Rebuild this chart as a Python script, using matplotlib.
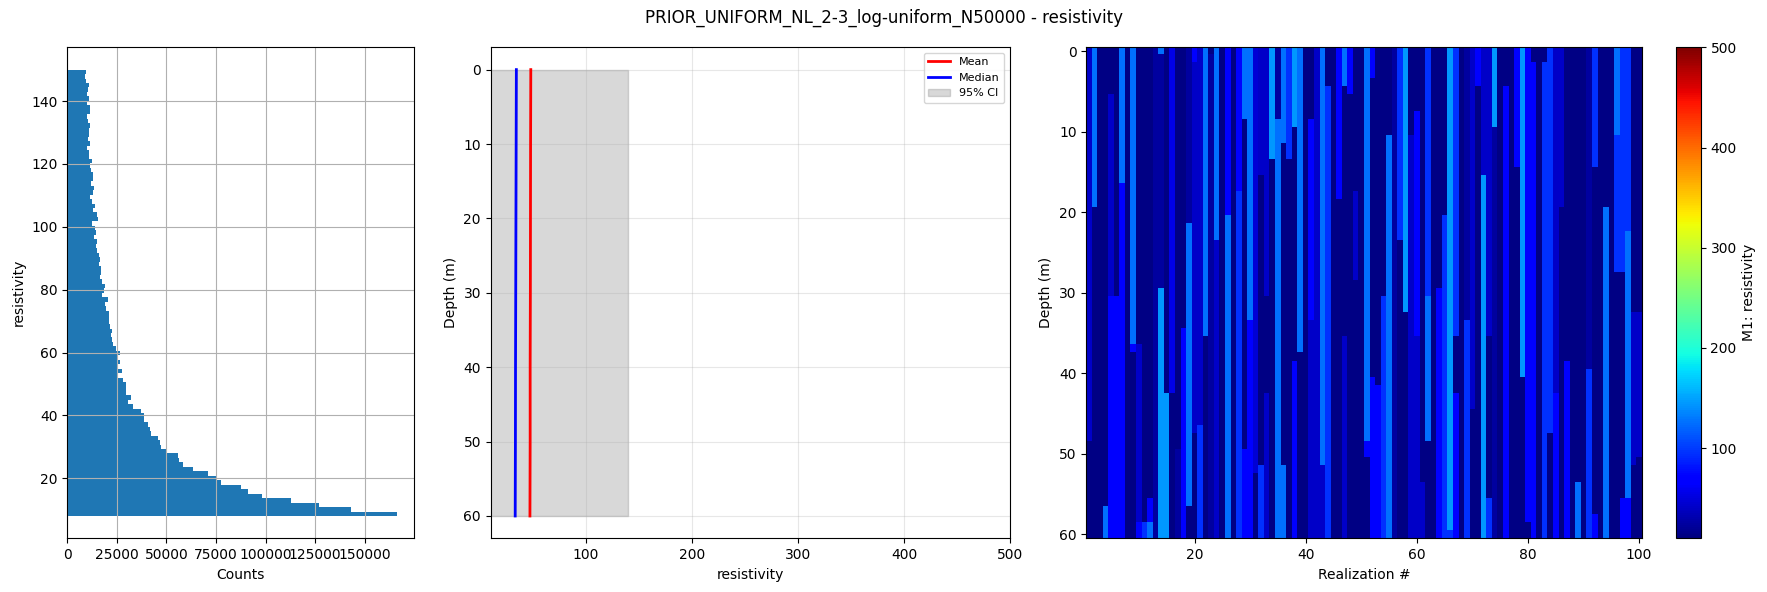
import numpy as np
import matplotlib
matplotlib.use("Agg")
import matplotlib.pyplot as plt

# ---- data ----
title = "PRIOR_UNIFORM_NL_2-3_log-uniform_N50000 - resistivity"

# histogram of resistivity, 100 bins between 8 and 150 (counts from bottom bin upwards)
hist_range = (8.0, 150.0)
hist_counts = [
    166500, 143300, 127100, 113000, 98200, 91300, 87700, 77600, 75600, 71100,
    63500, 58400, 56100, 55700, 50000, 47300, 46500, 45800, 42300, 41800,
    40800, 38700, 38600, 37200, 33000, 30600, 32000, 29500, 29500, 29500,
    28100, 25600, 27600, 25300, 26600, 25300, 26600, 24600, 23100, 22600,
    22100, 22600, 21600, 21100, 21100, 21100, 19500, 19000, 20500, 17700,
    18500, 19000, 17500, 16500, 17000, 17000, 16000, 16500, 16000, 15000,
    14500, 15000, 13500, 14500, 14000, 12500, 15500, 15000, 13000, 14000,
    12500, 11500, 13000, 13500, 12000, 13000, 13000, 12000, 11500, 12500,
    10900, 10900, 9900, 11500, 10400, 10900, 10900, 11500, 10400, 9900,
    11500, 11500, 9900, 10900, 9900, 10400, 10900, 9400, 8900, 9300,
]

# profile statistics vs depth
stat_depth = [0, 10, 20, 30, 40, 50, 60]
mean_res = [48.2, 48.0, 47.9, 47.8, 47.6, 47.6, 47.4]
median_res = [34.6, 34.4, 34.2, 34.0, 33.8, 33.7, 33.5]
ci_low = [8.6, 8.6, 8.6, 8.6, 8.6, 8.6, 8.6]
ci_high = [140.2, 140.2, 140.2, 140.2, 140.2, 140.2, 140.2]

# realizations: for each of 100 columns, layers as (top depth, resistivity)
depths = np.arange(0, 61)
layers = [
    [(0, 42), (48.4, 12)], [(0, 126), (19.4, 12)], [(0, 12)], [(0, 12), (56.5, 126)],
    [(0, 12), (5.4, 42), (30.4, 67)], [(0, 12), (30.4, 67)], [(0, 126), (16.5, 67)], [(0, 12)],
    [(0, 126), (36.5, 67), (37.5, 12)], [(0, 12), (36.5, 42), (58.5, 67)],
    [(0, 12), (58.5, 96)], [(0, 12), (55.5, 67), (58.5, 126)], [(0, 24)],
    [(0, 126), (0.5, 24), (29.5, 145)], [(0, 12), (42.5, 145)], [(0, 55), (42.5, 12)],
    [(0, 12), (50, 24)], [(0, 12), (34.5, 67)], [(0, 24), (21.5, 126), (56.5, 12)],
    [(0, 67), (1.5, 42), (47.4, 12)], [(0, 42), (46.3, 96)], [(0, 126), (35.4, 12)],
    [(0, 12), (1, 24)], [(0, 126), (23.4, 42)], [(0, 12)], [(0, 67), (20.4, 126)], [(0, 12)],
    [(0, 67), (17.4, 96)], [(0, 126), (8.4, 12), (49.4, 67)], [(0, 126), (33.5, 67)],
    [(0, 48), (52.5, 12)], [(0, 42), (15.5, 12), (51.5, 96)], [(0, 42), (30.4, 12), (42.5, 42)],
    [(0, 145), (13.5, 12)], [(0, 24), (8.4, 126)], [(0, 126), (11.4, 12), (51.5, 126)],
    [(0, 96), (13.5, 12)], [(0, 145), (9.4, 12), (38.5, 67)], [(0, 126), (37.5, 12)], [(0, 12)],
    [(0, 12), (8.4, 67), (33.5, 42)], [(0, 42)], [(0, 126), (51.5, 42)], [(0, 12), (4.4, 96)],
    [(0, 12)], [(0, 67), (18.4, 12)], [(0, 126), (4.4, 12), (35.6, 42)], [(0, 67), (5.4, 12)],
    [(0, 12), (17.4, 42), (28.4, 12)], [(0, 12)], [(0, 126), (48.4, 67), (50.4, 12)],
    [(0, 67), (3.4, 12), (40.5, 67)], [(0, 12), (41.5, 67)], [(0, 12), (30.5, 96)],
    [(0, 12), (10.4, 126)], [(0, 24)], [(0, 96), (23.4, 12)], [(0, 145), (32.5, 12)],
    [(0, 12), (10.4, 42)], [(0, 12), (7.4, 67), (35.6, 42)], [(0, 12), (53.6, 42)],
    [(0, 96), (30.5, 126), (48.4, 12)], [(0, 12)], [(0, 12), (29.5, 67)], [(0, 12), (20.4, 96)],
    [(0, 145), (59.4, 96)], [(0, 96), (35.6, 12), (42.5, 67)], [(0, 12)], [(0, 24), (33.5, 96)],
    [(0, 42), (44.5, 12)], [(0, 67), (4.4, 12)], [(0, 42), (15.5, 145)],
    [(0, 42), (35.6, 12), (55.5, 96)], [(0, 145), (9.4, 24)], [(0, 12)], [(0, 12), (4.4, 67)],
    [(0, 12)], [(0, 67), (14.4, 12)], [(0, 145), (40.5, 12)], [(0, 67), (58.5, 12)],
    [(0, 12), (1.4, 67)], [(0, 12)], [(0, 12), (1.4, 96)], [(0, 96), (47.4, 12)],
    [(0, 42), (42.5, 67)], [(0, 42), (19.4, 12)], [(0, 12), (38.5, 67)], [(0, 12)],
    [(0, 12), (53.5, 126)], [(0, 12)], [(0, 24), (39.5, 96)], [(0, 96), (14.5, 12), (57.5, 67)],
    [(0, 12)], [(0, 12), (19.5, 126)], [(0, 12)], [(0, 126), (10.4, 96), (27.4, 12)],
    [(0, 96), (27.4, 12), (55.5, 67)], [(0, 96), (22.5, 126), (55.5, 67)],
    [(0, 12), (32.5, 42), (51.5, 12)], [(0, 12), (32.5, 42), (50.5, 12)],
]
clim = (10, 500)

# build the realization matrix (depth x realization)
M = np.zeros((len(depths), len(layers)))
for j, col in enumerate(layers):
    for top, val in col:
        M[depths >= top, j] = val

fig = plt.figure(figsize=(17.67, 5.92), dpi=100)
ax1 = fig.add_axes([0.0381, 0.0907, 0.1962, 0.8294])
ax2 = fig.add_axes([0.2777, 0.0907, 0.2939, 0.8294])
ax3 = fig.add_axes([0.6148, 0.0907, 0.3143, 0.8294])
cax = fig.add_axes([0.9485, 0.0907, 0.0140, 0.8294])

# histogram
edges = np.linspace(hist_range[0], hist_range[1], len(hist_counts) + 1)
centers = 0.5 * (edges[:-1] + edges[1:])
ax1.hist(centers, bins=edges, weights=hist_counts, orientation='horizontal', color='C0')
ax1.set_xlabel('Counts')
ax1.set_ylabel('resistivity')
ax1.grid(True)

# mean / median / CI
ax2.fill_betweenx(stat_depth, ci_low, ci_high, color='gray', alpha=0.3, label='95% CI')
ax2.plot(mean_res, stat_depth, 'r-', linewidth=2, label='Mean')
ax2.plot(median_res, stat_depth, 'b-', linewidth=2, label='Median')
ax2.set_xlim(10.4, clim[1])
ax2.invert_yaxis()
ax2.set_xlabel('resistivity')
ax2.set_ylabel('Depth (m)')
ax2.grid(True, alpha=0.3)
h, l = ax2.get_legend_handles_labels()
ax2.legend([h[1], h[2], h[0]], [l[1], l[2], l[0]], loc='upper right', fontsize=8)

# realizations
im = ax3.imshow(M, aspect='auto', cmap='jet', vmin=clim[0], vmax=clim[1],
                extent=[0.5, len(layers) + 0.5, depths[-1] + 0.5, depths[0] - 0.5],
                interpolation='nearest')
ax3.set_xlabel('Realization #')
ax3.set_ylabel('Depth (m)')
cb = fig.colorbar(im, cax=cax)
cb.set_label('M1: resistivity')

fig.suptitle(title, fontsize=12, y=0.985)
fig.savefig('out.png', dpi=100)
